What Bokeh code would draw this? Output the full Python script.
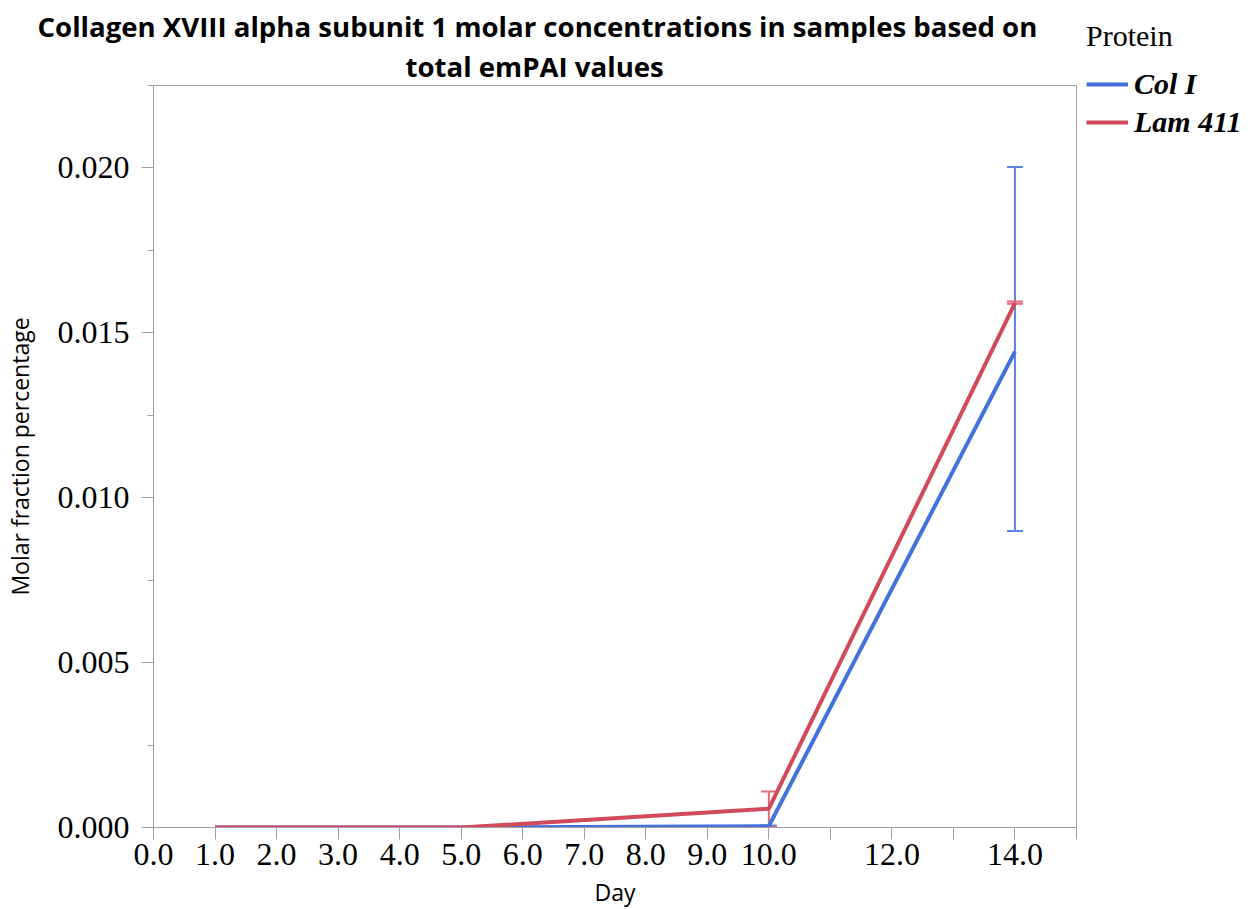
from bokeh.plotting import figure
from bokeh.models import (Range1d, FixedTicker, Whisker, TeeHead, ColumnDataSource,
                          Legend, LegendItem, NumeralTickFormatter, Title)
from bokeh.embed import file_html
from bokeh.resources import INLINE

# ---- data ----
days = [1, 5, 10, 14]
col_i = [0.0, 0.0, 0.00004, 0.01443]
lam_411 = [0.0, 0.0, 0.00057, 0.0159]

err_days = [10, 14]
col_i_err_base = [0.00004, 0.01443]
col_i_err_lower = [0.00002, 0.00899]
col_i_err_upper = [0.00006, 0.02003]
lam_err_base = [0.00057, 0.0159]
lam_err_lower = [0.00002, 0.01588]
lam_err_upper = [0.00109, 0.01595]

x_ticks = list(range(0, 16))
x_tick_labels = {t: (f"{t}.0" if (t <= 10 or t in (12, 14)) else "") for t in x_ticks}
y_ticks = [0.0, 0.005, 0.010, 0.015, 0.020]
y_minor = [0.0025, 0.0075, 0.0125, 0.0175, 0.0225]

title_lines = ["Collagen XVIII alpha subunit 1 molar concentrations in samples based on",
               "total emPAI values"]

BLUE = "#4472DD"
RED = "#D24A5A"
BLUE_ERR = "#5B84E6"
RED_ERR = "#E06A78"
GRAY = "#A0A0A0"
SERIF = "Liberation Serif"
SANS = "Open Sans"

p = figure(frame_width=923, frame_height=742, output_backend="svg", toolbar_location=None,
           x_range=Range1d(0, 15), y_range=Range1d(0, 0.0225),
           min_border_left=152, min_border_right=0, min_border_top=85, min_border_bottom=70)

# two centred title lines (added bottom line first)
for txt, off, so in ((title_lines[1], 252, 1), (title_lines[0], -116, 0)):
    t = Title(text=txt, align="left", offset=off, standoff=so,
              text_font=SANS, text_font_style="bold", text_font_size="27.6px",
              text_color="black")
    p.add_layout(t, "above")

p.xgrid.visible = False
p.ygrid.visible = False
p.outline_line_color = GRAY
p.outline_line_width = 1

# axes
p.xaxis.ticker = FixedTicker(ticks=x_ticks, minor_ticks=[])
p.xaxis.major_label_overrides = x_tick_labels
p.yaxis.ticker = FixedTicker(ticks=y_ticks, minor_ticks=y_minor)
p.yaxis.formatter = NumeralTickFormatter(format="0.000")
for ax in (p.xaxis, p.yaxis):
    ax.axis_line_color = GRAY
    ax.major_tick_line_color = GRAY
    ax.minor_tick_line_color = GRAY
    ax.major_tick_out = 12
    ax.major_tick_in = 0
    ax.minor_tick_out = 6
    ax.minor_tick_in = 0
    ax.major_label_text_font = SERIF
    ax.major_label_text_font_size = "32px"
    ax.major_label_text_color = "black"
    ax.axis_label_text_font = SANS
    ax.axis_label_text_font_size = "23px"
    ax.axis_label_text_font_style = "normal"
    ax.axis_label_text_color = "black"
p.xaxis.axis_label = "Day"
p.yaxis.axis_label = "Molar fraction percentage"
p.xaxis.major_label_standoff = 4
p.yaxis.major_label_standoff = 12
p.xaxis.axis_label_standoff = 8
p.yaxis.axis_label_standoff = 19

# series
r_blue = p.line(days, col_i, line_color=BLUE, line_width=4)
r_red = p.line(days, lam_411, line_color=RED, line_width=4)

src_b = ColumnDataSource(dict(x=err_days, base=col_i_err_base, lower=col_i_err_lower, upper=col_i_err_upper))
src_r = ColumnDataSource(dict(x=err_days, base=lam_err_base, lower=lam_err_lower, upper=lam_err_upper))
for src, c in ((src_b, BLUE_ERR), (src_r, RED_ERR)):
    w = Whisker(source=src, base="x", lower="lower", upper="upper", dimension="height",
                line_color=c, line_width=2,
                upper_head=TeeHead(size=16, line_color=c, line_width=2),
                lower_head=TeeHead(size=16, line_color=c, line_width=2))
    p.add_layout(w)

legend = Legend(items=[LegendItem(label="Col I", renderers=[r_blue]),
                       LegendItem(label="Lam 411", renderers=[r_red])],
                location=(10, 688), title="Protein",
                border_line_color=None, background_fill_alpha=0,
                padding=0, margin=0, spacing=4,
                glyph_width=42, glyph_height=30, label_standoff=6,
                label_text_font=SERIF, label_text_font_style="bold italic",
                label_text_font_size="30px", label_text_color="black",
                title_text_font=SERIF, title_text_font_style="normal",
                title_text_font_size="30px", title_text_color="black",
                title_standoff=14)
p.add_layout(legend, "right")

open("out.html", "w").write(file_html(p, INLINE))
